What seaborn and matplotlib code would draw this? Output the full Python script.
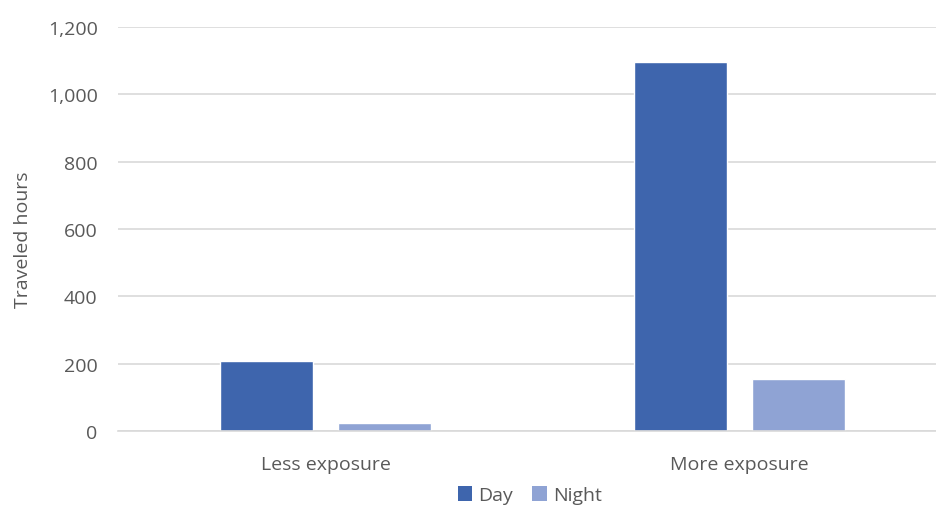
import matplotlib
matplotlib.use("Agg")
import matplotlib.pyplot as plt
import matplotlib.ticker as mticker
from matplotlib.patches import Patch
import seaborn as sns
import pandas as pd

# Travel hours by exposure level, split into day and night
categories = ["Less exposure", "More exposure"]
day_hours = [207, 1095]
night_hours = [25, 156]
series_names = ["Day", "Night"]
series_colors = ["#3E65AD", "#8FA3D4"]
y_ticks = [0, 200, 400, 600, 800, 1000, 1200]

df = pd.DataFrame({
    "exposure": categories * 2,
    "hours": day_hours + night_hours,
    "period": [series_names[0]] * len(categories) + [series_names[1]] * len(categories),
})

sns.set_theme(style="white")
plt.rcParams["font.family"] = ["Open Sans", "DejaVu Sans"]

fig = plt.figure(figsize=(9.36, 5.06), dpi=100)
# plot area runs slightly past the right edge of the canvas
ax = fig.add_axes([0.1266, 0.146, 0.8846, 0.799])

sns.barplot(
    data=df, x="exposure", y="hours", hue="period",
    order=categories, hue_order=series_names,
    palette=series_colors, width=0.57, gap=0.21,
    saturation=1, errorbar=None, legend=False, ax=ax,
)

ax.set_xlim(-0.5, 1.5)
ax.set_ylim(0, 1200)
ax.set_yticks(y_ticks)
ax.yaxis.set_major_formatter(mticker.StrMethodFormatter("{x:,.0f}"))
ax.grid(axis="y", color="#D9D9D9", linewidth=1.2)
ax.set_axisbelow(True)
for side in ["top", "right", "left"]:
    ax.spines[side].set_visible(False)
ax.spines["bottom"].set_color("#D9D9D9")
ax.spines["bottom"].set_linewidth(1.2)

ax.tick_params(axis="y", length=0, pad=15, labelsize=14, labelcolor="#595959")
ax.tick_params(axis="x", length=0, pad=17, labelsize=14, labelcolor="#595959")
ax.set_xlabel("")
ax.set_ylabel("Traveled hours", fontsize=14, color="#595959")
ax.yaxis.set_label_coords(-0.104, 0.475)

handles = [Patch(facecolor=c, edgecolor="none", label=n) for n, c in zip(series_names, series_colors)]
fig.legend(
    handles=handles, loc="center", bbox_to_anchor=(0.566, 0.019), ncol=2,
    frameon=False, fontsize=14, labelcolor="#595959",
    handlelength=0.75, handleheight=0.75, handletextpad=0.3, columnspacing=1.0,
)

fig.savefig("out.png", dpi=100)
